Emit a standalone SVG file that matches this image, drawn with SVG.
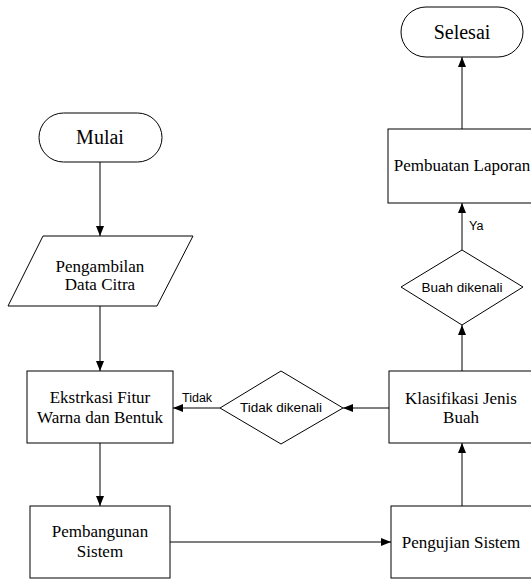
<svg xmlns="http://www.w3.org/2000/svg" width="531" height="580" viewBox="0 0 531 580">
<defs>
<marker id="arr" markerWidth="10" markerHeight="8" refX="10" refY="4" orient="auto" markerUnits="userSpaceOnUse">
<path d="M0,0 L10,4 L0,8 Z" fill="#000"/>
</marker>
<style>
.s{fill:#fff;stroke:#000;stroke-width:1}
.t{font-family:"Liberation Serif","Times New Roman",serif;font-size:17px;fill:#000;text-anchor:middle}
.tt{font-family:"Liberation Serif","Times New Roman",serif;font-size:20px;fill:#000;text-anchor:middle}
.d{font-family:"Liberation Sans",Arial,sans-serif;font-size:13.5px;fill:#000;text-anchor:middle}
.l{font-family:"Liberation Sans",Arial,sans-serif;font-size:12.5px;fill:#000}
.c{stroke:#000;stroke-width:1;fill:none;marker-end:url(#arr)}
</style>
</defs>
<rect width="531" height="580" fill="#fff"/>
<g id="connectors">
<line class="c" x1="100" y1="162" x2="100" y2="236"/>
<line class="c" x1="100" y1="306" x2="100" y2="371"/>
<line class="c" x1="100" y1="443" x2="100" y2="506"/>
<line class="c" x1="170" y1="542" x2="391" y2="542"/>
<line class="c" x1="462" y1="506" x2="462" y2="443"/>
<line class="c" x1="389" y1="408" x2="343" y2="408"/>
<line class="c" x1="220" y1="408" x2="173" y2="408"/>
<line class="c" x1="462" y1="371" x2="462" y2="325"/>
<line class="c" x1="462" y1="250" x2="462" y2="203"/>
<line class="c" x1="462" y1="129" x2="462" y2="57"/>
<text class="l" x="182" y="402">Tidak</text>
<text class="l" x="469" y="230">Ya</text>
</g>
<g id="mulai">
<rect class="s" x="39" y="113" width="123" height="49" rx="24.5" ry="24.5"/>
<text class="tt" x="100" y="144">Mulai</text>
</g>
<g id="pengambilan">
<polygon class="s" points="43,236 193,236 157,306 8,306"/>
<text class="t" x="100" y="272">Pengambilan</text>
<text class="t" x="100" y="290">Data Citra</text>
</g>
<g id="ekstraksi">
<rect class="s" x="27" y="371" width="146" height="72"/>
<text class="t" x="100" y="403">Ekstrkasi Fitur</text>
<text class="t" x="100" y="423">Warna dan Bentuk</text>
</g>
<g id="pembangunan">
<rect class="s" x="30" y="506" width="140" height="72"/>
<text class="t" x="100" y="537">Pembangunan</text>
<text class="t" x="100" y="557">Sistem</text>
</g>
<g id="pengujian">
<rect class="s" x="391" y="506" width="145" height="72"/>
<text class="t" x="461" y="548">Pengujian Sistem</text>
</g>
<g id="klasifikasi">
<rect class="s" x="389" y="371" width="147" height="72"/>
<text class="t" x="461" y="404">Klasifikasi Jenis</text>
<text class="t" x="461" y="423">Buah</text>
</g>
<g id="tidak-dikenali">
<polygon class="s" points="281,371 343,408 281,444 220,408"/>
<text class="d" x="281" y="412">Tidak dikenali</text>
</g>
<g id="buah-dikenali">
<polygon class="s" points="462,250 523,287 462,325 401,287"/>
<text class="d" x="462" y="292">Buah dikenali</text>
</g>
<g id="pembuatan">
<rect class="s" x="388" y="129" width="148" height="74"/>
<text class="t" x="462" y="171">Pembuatan Laporan</text>
</g>
<g id="selesai">
<rect class="s" x="401" y="7" width="122" height="50" rx="25" ry="25"/>
<text class="tt" x="462" y="39">Selesai</text>
</g>
</svg>
